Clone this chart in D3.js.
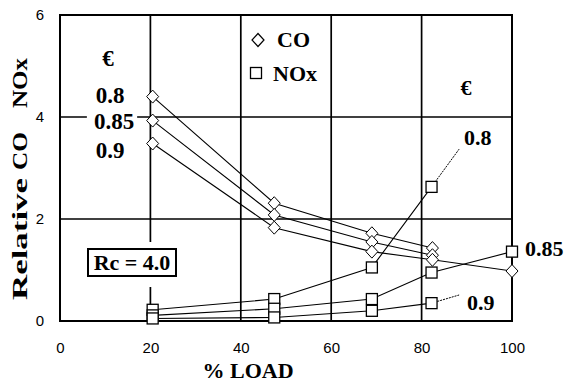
<!DOCTYPE html>
<html>
<head>
<meta charset="utf-8">
<script src="https://cdn.jsdelivr.net/npm/d3@7"></script>
<style>
  body { margin: 0; background: #fff; }
  svg { display: block; }
</style>
</head>
<body>
<svg id="chart"></svg>
<script>
// axis ticks
const xTicks = [0, 20, 40, 60, 80, 100];
const yTicks = [0, 2, 4, 6];

// CO (diamonds), one array pair per excess air ratio
const coLoad08 = [20.5, 47.4, 69, 82.4];
const co08 = [4.40, 2.31, 1.72, 1.43];
const coLoad085 = [20.5, 47.4, 69, 82.4];
const co085 = [3.93, 2.08, 1.55, 1.29];
const coLoad09 = [20.5, 47.4, 69, 82.4, 100];
const co09 = [3.48, 1.83, 1.36, 1.20, 0.98];

// NOx (squares)
const noxLoad08 = [20.5, 47.4, 69, 82.2];
const nox08 = [0.22, 0.43, 1.05, 2.63];
const noxLoad085 = [20.5, 47.4, 69, 82.2, 100];
const nox085 = [0.11, 0.24, 0.43, 0.95, 1.36];
const noxLoad09 = [20.5, 47.4, 69, 82.2];
const nox09 = [0.05, 0.07, 0.2, 0.35];

const serif = 'Liberation Serif';

const config = {
  width: 568, height: 383,
  margin: { top: 15, right: 56, bottom: 62, left: 60 }
};

const zip = (xs, ys) => xs.map((x, i) => ({ x: x, y: ys[i] }));
const coSeries = [zip(coLoad08, co08), zip(coLoad085, co085), zip(coLoad09, co09)];
const noxSeries = [zip(noxLoad08, nox08), zip(noxLoad085, nox085), zip(noxLoad09, nox09)];

const w = config.width - config.margin.left - config.margin.right;
const h = config.height - config.margin.top - config.margin.bottom;

const svg = d3.select('#chart')
  .attr('width', config.width)
  .attr('height', config.height);

const chart = svg.append('g')
  .attr('transform', `translate(${config.margin.left},${config.margin.top})`);

const xScale = d3.scaleLinear().domain([0, 100]).range([0, w]);
const yScale = d3.scaleLinear().domain([0, 6]).range([h, 0]);

// small helper for the bold serif labels
function label(sel, t, x, y, size, anchor) {
  return sel.append('text')
    .attr('x', x).attr('y', y)
    .attr('font-family', serif)
    .attr('font-weight', 'bold')
    .attr('font-size', size)
    .attr('text-anchor', anchor || 'start')
    .attr('fill', '#000')
    .text(t);
}

// grid lines
chart.selectAll('.vgrid')
  .data([20, 40, 60, 80])
  .join('line')
  .attr('x1', d => xScale(d)).attr('x2', d => xScale(d))
  .attr('y1', 0).attr('y2', h)
  .attr('stroke', '#000').attr('stroke-width', 1.7);

chart.selectAll('.hgrid')
  .data([2, 4])
  .join('line')
  .attr('x1', 0).attr('x2', w)
  .attr('y1', d => yScale(d)).attr('y2', d => yScale(d))
  .attr('stroke', '#000').attr('stroke-width', 1.7);

// axes (labels only, no tick marks)
const xAxis = chart.append('g')
  .attr('transform', `translate(0,${h})`)
  .call(d3.axisBottom(xScale).tickValues(xTicks).tickFormat(d3.format('d')).tickSize(0).tickPadding(21));
xAxis.select('.domain').remove();

const yAxis = chart.append('g')
  .call(d3.axisLeft(yScale).tickValues(yTicks).tickFormat(d3.format('d')).tickSize(0).tickPadding(16));
yAxis.select('.domain').remove();

[xAxis, yAxis].forEach(a => a
  .attr('font-family', 'Liberation Sans')
  .attr('font-size', 15)
  .selectAll('text').attr('fill', '#000'));

// Rc box (white gap cuts the 20% grid line)
chart.append('rect')
  .attr('x', 24).attr('y', 227).attr('width', 96).attr('height', 45)
  .attr('fill', '#fff');
chart.append('rect')
  .attr('x', 28).attr('y', 234).attr('width', 88).attr('height', 27)
  .attr('fill', '#fff').attr('stroke', '#000').attr('stroke-width', 2);
label(chart, 'Rc = 4.0', 72, 255, 22, 'middle');

// plot border
chart.append('rect')
  .attr('x', 0).attr('y', 0).attr('width', w).attr('height', h)
  .attr('fill', 'none').attr('stroke', '#000').attr('stroke-width', 2);

// left epsilon labels
const leftLabels = [
  { t: '€', x: 108, y: 51 },
  { t: '0.8', x: 110, y: 88 },
  { t: '0.85', x: 114, y: 114 },
  { t: '0.9', x: 110, y: 143 }
];
leftLabels.forEach(d => {
  const txt = label(chart, d.t, d.x - config.margin.left, d.y, 23, 'middle');
  if (d.t === '0.85') {
    const b = txt.node().getBBox();
    chart.insert('rect', () => txt.node())
      .attr('x', b.x - 7).attr('y', b.y + 3)
      .attr('width', b.width + 10).attr('height', b.height - 6)
      .attr('fill', '#fff');
  }
});

const line = d3.line().x(d => xScale(d.x)).y(d => yScale(d.y));

// data lines
chart.selectAll('.coLine')
  .data(coSeries)
  .join('path')
  .attr('d', line)
  .attr('fill', 'none').attr('stroke', '#000').attr('stroke-width', 1.1);

chart.selectAll('.noxLine')
  .data(noxSeries)
  .join('path')
  .attr('d', line)
  .attr('fill', 'none').attr('stroke', '#000').attr('stroke-width', 1.1);

// leader lines to right-side labels
const leaders = [
  [{ x: 82.2, y: 2.63 }, { x: 88.3, y: 3.37 }],
  [{ x: 82.2, y: 0.35 }, { x: 88.3, y: 0.51 }]
];
chart.selectAll('.leader')
  .data(leaders)
  .join('path')
  .attr('d', line)
  .attr('fill', 'none').attr('stroke', '#000').attr('stroke-width', 1)
  .attr('stroke-dasharray', '2,1');

// markers
const diamond = 'M0,-6.5L6,0L0,6.5L-6,0Z';
chart.selectAll('.coPt')
  .data(coSeries.flat())
  .join('path')
  .attr('transform', d => `translate(${xScale(d.x)},${yScale(d.y)})`)
  .attr('d', diamond)
  .attr('fill', '#fff').attr('stroke', '#000').attr('stroke-width', 1);

chart.selectAll('.noxPt')
  .data(noxSeries.flat())
  .join('rect')
  .attr('x', d => xScale(d.x) - 5.5)
  .attr('y', d => yScale(d.y) - 5.5)
  .attr('width', 11).attr('height', 11)
  .attr('fill', '#fff').attr('stroke', '#000').attr('stroke-width', 1.3);

// legend
const legend = svg.append('g');
legend.append('path')
  .attr('transform', 'translate(258,40)')
  .attr('d', diamond)
  .attr('fill', '#fff').attr('stroke', '#000').attr('stroke-width', 1.2);
legend.append('rect')
  .attr('x', 250.5).attr('y', 67.5).attr('width', 11).attr('height', 11)
  .attr('fill', '#fff').attr('stroke', '#000').attr('stroke-width', 1.3);
label(legend, 'CO', 277, 47, 22);
label(legend, 'NOx', 273, 81, 22);

// right labels
label(svg, '€', 466, 95, 22, 'middle');
label(svg, '0.8', 464, 145, 22);
label(svg, '0.85', 525, 256, 22);
label(svg, '0.9', 467, 310, 22);

// axis titles
label(svg, '% LOAD', 248, 378, 22, 'middle');

const yTitle = [
  { t: 'Relative', c: 239, len: 122 },
  { t: 'CO', c: 151, len: 38 },
  { t: 'NOx', c: 83, len: 50 }
];
yTitle.forEach(d => {
  const g = svg.append('g').attr('transform', `translate(27,${d.c})`);
  label(g, d.t, 0, 0, 22, 'middle')
    .attr('transform', 'rotate(-90)')
    .attr('textLength', d.len)
    .attr('lengthAdjust', 'spacingAndGlyphs');
});
</script>
</body>
</html>
